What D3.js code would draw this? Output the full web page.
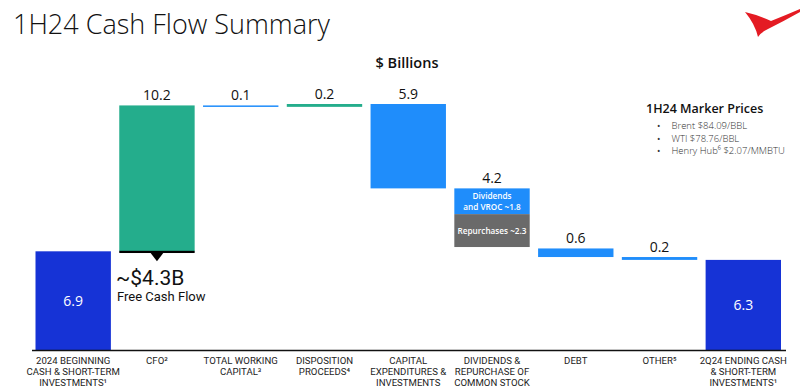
<!DOCTYPE html>
<html><head><meta charset="utf-8">
<script src="https://cdn.jsdelivr.net/npm/d3@7"></script>
<style>
body{margin:0;background:#fff;}
svg{display:block;font-family:"Open Sans","Noto Sans",sans-serif;}
</style></head>
<body><svg id="c" width="800" height="389"></svg>
<script>
// ---- data ----
const categories = ["begin","cfo","wc","disp","capex","div","debt","other","end"];
const catLabels = [
  ["2024 BEGINNING","CASH & SHORT-TERM","INVESTMENTS¹"],
  ["CFO²"],
  ["TOTAL WORKING","CAPITAL³"],
  ["DISPOSITION","PROCEEDS⁴"],
  ["CAPITAL","EXPENDITURES &","INVESTMENTS"],
  ["DIVIDENDS &","REPURCHASE OF","COMMON STOCK"],
  ["DEBT"],
  ["OTHER⁵"],
  ["2Q24 ENDING CASH","& SHORT-TERM","INVESTMENTS¹"]
];
const values = [6.9, 10.2, -0.1, 0.2, -5.9, -4.2, -0.6, -0.2, 6.3];
const kinds = ["total","up","down","up","down","down","down","down","total"];
const divParts = [1.8, 2.3];  // dividends & VROC, repurchases
const divPartLabels = [["Dividends","and VROC ~1.8"],["Repurchases ~2.3"]];
const markerTitle = "1H24 Marker Prices";
const markerItems = ["Brent $84.09/BBL","WTI $78.76/BBL","Henry Hub⁶ $2.07/MMBTU"];

const colors = {total:"#1633d6", up:"#24ad8c", down:"#1f8dfb", gray:"#6a6a6a"};

const svg = d3.select("#c");
const x = d3.scaleBand().domain(categories).range([35.5, 781]).paddingInner(0.1).paddingOuter(0);
const y = d3.scaleLinear().domain([0, 17.2]).range([350, 104]);

// waterfall
let run = 0;
const bars = categories.map((c,i)=>{
  let y0, y1;
  if (kinds[i]==="total"){ y0 = 0; y1 = values[i]; run = values[i]; }
  else { y0 = run; y1 = run + values[i]; run = y1; }
  return {c, i, lo: Math.min(y0,y1), hi: Math.max(y0,y1), v: Math.abs(values[i]), kind: kinds[i]};
});

// title
svg.append("text").attr("x",13).attr("y",34).attr("font-size",27).attr("font-weight",300)
  .attr("fill","#111").text("1H24 Cash Flow Summary");
svg.append("text").attr("x",407).attr("y",68).attr("text-anchor","middle").attr("font-size",14.5)
  .attr("font-weight",600).attr("fill","#111").text("$ Billions");

// logo
svg.append("path").attr("fill","#e41b23")
  .attr("d","M745,12 Q758,15 771,21 Q786,15 800,9 L800,12 Q784,21 768,29 Q760,33 758,37 Q755,24 745,12 Z");

// bars
const g = svg.append("g");
bars.forEach(b=>{
  if (b.c==="div"){
    let top = b.hi;
    divParts.forEach((p,k)=>{
      g.append("rect").attr("x",x(b.c)).attr("width",x.bandwidth())
        .attr("y",y(top)).attr("height",y(top-p)-y(top))
        .attr("fill", k===0?colors.down:colors.gray);
      const lines = divPartLabels[k];
      const mid = (y(top)+y(top-p))/2;
      const t = g.append("text").attr("text-anchor","middle").attr("font-size",8.2).attr("font-weight",600).attr("fill","#fff");
      lines.forEach((s,j)=>{
        t.append("tspan").attr("x",x(b.c)+x.bandwidth()/2)
          .attr("y", mid + (j-(lines.length-1)/2)*10.5 + 3).text(s);
      });
      top -= p;
    });
  } else {
    g.append("rect").attr("x",x(b.c)).attr("width",x.bandwidth())
      .attr("y",y(b.hi)).attr("height",Math.max(1.5,y(b.lo)-y(b.hi)))
      .attr("fill",colors[b.kind]);
  }
  const cx = x(b.c)+x.bandwidth()/2;
  if (b.kind==="total"){
    g.append("text").attr("x",cx).attr("y",(y(b.hi)+y(0))/2+5).attr("text-anchor","middle")
      .attr("font-size",14).attr("font-weight",500).attr("fill","#fff").text(b.v.toFixed(1));
  } else {
    g.append("text").attr("x",cx).attr("y",y(b.hi)-5).attr("text-anchor","middle")
      .attr("font-size",14).attr("font-weight",500).attr("fill","#111").text(b.v.toFixed(1));
  }
});

// CFO bottom marker
const cfo = bars[1];
const cx1 = x("cfo")+x.bandwidth()/2;
svg.append("rect").attr("x",x("cfo")).attr("width",x.bandwidth()).attr("y",y(cfo.lo)-0.5).attr("height",2.2).attr("fill","#000");
svg.append("path").attr("fill","#000")
  .attr("d",`M${cx1-6.5},${y(cfo.lo)+1.5} L${cx1+6.5},${y(cfo.lo)+1.5} L${cx1},${y(cfo.lo)+10} Z`);
svg.append("text").attr("x",116).attr("y",285).attr("font-family","Roboto, sans-serif").attr("font-size",21)
  .attr("font-weight",400).attr("fill","#111").text("~$4.3B");
svg.append("text").attr("x",117).attr("y",301).attr("font-family","Roboto, sans-serif").attr("font-size",13)
  .attr("font-weight",400).attr("fill","#111").text("Free Cash Flow");

// axis baseline
svg.append("line").attr("x1",32).attr("x2",786).attr("y1",y(0)+0.5).attr("y2",y(0)+0.5).attr("stroke","#111").attr("stroke-width",1.5);

// category labels (one text element per category)
catLabels.forEach((lines,i)=>{
  const cx = x(categories[i])+x.bandwidth()/2;
  const t = svg.append("text").attr("text-anchor","middle").attr("font-family","Roboto, 'Open Sans', sans-serif")
    .attr("font-size",9.6).attr("font-weight",400).attr("fill","#222");
  lines.forEach((ln,j)=>{
    t.append("tspan").attr("x",cx).attr("y",363.5+j*11).text(ln);
  });
});

// marker prices
svg.append("text").attr("x",646).attr("y",113).attr("font-size",12.5).attr("font-weight",600).attr("fill","#111").text(markerTitle);
markerItems.forEach((it,j)=>{
  const yy = 129 + j*12.7;
  svg.append("text").attr("x",657).attr("y",yy).attr("font-size",9).attr("fill","#333").text("•");
  svg.append("text").attr("x",671.5).attr("y",yy).attr("font-size",9.5).attr("font-weight",300).attr("fill","#333").text(it);
});
</script></body></html>
